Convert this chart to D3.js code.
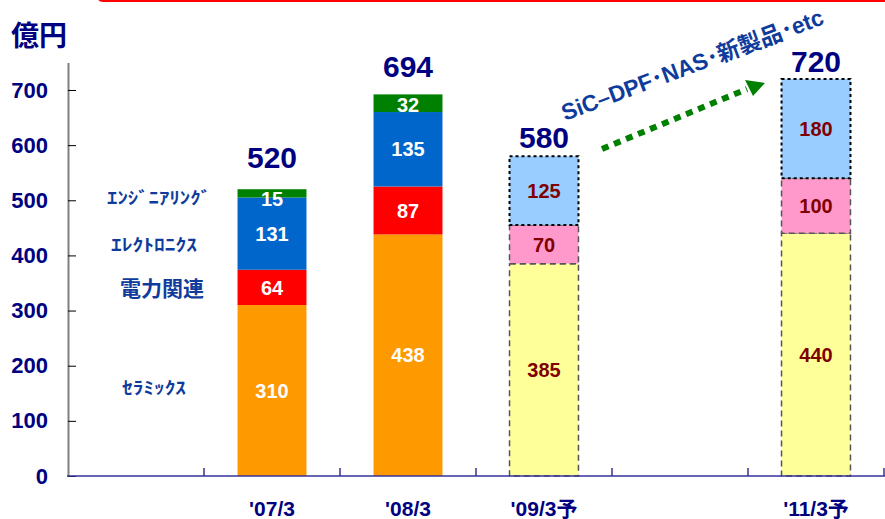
<!DOCTYPE html>
<html>
<head>
<meta charset="utf-8">
<script src="https://cdn.jsdelivr.net/npm/d3@7"></script>
<style>
  html, body { margin: 0; padding: 0; background: #fff; }
  svg { display: block; }
</style>
</head>
<body>
<svg id="chart"></svg>
<script>
const width = 885;
const height = 519;

// data
const categories = ["", "'07/3", "'08/3", "'09/3予", " ", "'11/3予"];
const ceramics    = [0, 310, 438, 385, 0, 440];
const power       = [0, 64, 87, 70, 0, 100];
const electronics = [0, 131, 135, 125, 0, 180];
const engineering = [0, 15, 32, 0, 0, 0];
const totals      = [null, 520, 694, 580, null, 720];
const isForecast  = [false, false, false, true, false, true];
const yTicks = [0, 100, 200, 300, 400, 500, 600, 700];
const segmentNames = ["ｾﾗﾐｯｸｽ", "電力関連", "ｴﾚｸﾄﾛﾆｸｽ", "ｴﾝｼﾞﾆｱﾘﾝｸﾞ"];

const keys = ["ceramics", "power", "electronics", "engineering"];
const rows = categories.map((c, i) => ({
    cat: c, i: i,
    ceramics: ceramics[i], power: power[i],
    electronics: electronics[i], engineering: engineering[i]
}));

const actualColor = { ceramics: "#FF9900", power: "#FF0000", electronics: "#0066CC", engineering: "#008000" };
const planColor = { ceramics: "#FFFF99", power: "#FF99CC", electronics: "#99CCFF", engineering: "#99CCFF" };

const navy = "#000080";
const blueText = "#0f3c9c";
const fontLatin = "'Liberation Sans', Arial, sans-serif";
const fontJp = "'Liberation Sans', 'Noto Sans CJK JP', sans-serif";

const svg = d3.select('#chart').attr('width', width).attr('height', height)

const x = d3.scaleBand().domain(categories).range([68, 884]).paddingInner(0.493).paddingOuter(0.2465)
const y = d3.scaleLinear().domain([0, 750]).range([476, 62.4])
const step = x.step()

// red frame edge at the top
svg.append('rect')
    .attr('x', 97).attr('y', -20).attr('width', 800).attr('height', 21).attr('rx', 6)
    .style('fill', 'none').style('stroke', '#FF0000').style('stroke-width', 2)

// unit
svg.append('text')
    .attr('x', 11).attr('y', 46)
    .style('font-family', "'Noto Sans CJK JP', sans-serif").style('font-weight', 'bold')
    .style('font-size', '28px').style('fill', navy)
    .text('億円')

// bars
const series = d3.stack().keys(keys)(rows)
const barG = svg.append('g')
series.forEach(s => {
    const key = s.key
    barG.append('g')
        .selectAll('rect')
        .data(s.filter(d => d.data[key] > 0))
        .join('rect')
        .attr('x', d => x(d.data.cat))
        .attr('width', x.bandwidth())
        .attr('y', d => y(d[1]))
        .attr('height', d => y(d[0]) - y(d[1]))
        .style('fill', d => isForecast[d.data.i] ? planColor[key] : actualColor[key])
        .style('stroke', d => isForecast[d.data.i] ? (key === 'electronics' ? '#000' : '#555') : 'none')
        .style('stroke-width', d => key === 'electronics' ? 2 : 1.5)
        .style('stroke-dasharray', d => key === 'electronics' ? '3,3' : '6,4')
})

// segment labels
series.forEach(s => {
    const key = s.key
    svg.append('g')
        .selectAll('text')
        .data(s.filter(d => d.data[key] > 0))
        .join('text')
        .attr('x', d => x(d.data.cat) + x.bandwidth() / 2)
        .attr('y', d => Math.max((y(d[0]) + y(d[1])) / 2, y(d[1]) + 10))
        .attr('dy', '0.36em')
        .attr('text-anchor', 'middle')
        .style('font-family', fontLatin).style('font-weight', 'bold').style('font-size', '20px')
        .style('fill', d => isForecast[d.data.i] ? '#800000' : '#fff')
        .text(d => d.data[key])
})

// totals
const totalLift = [0, 21, 17, 8, 0, 7];
svg.append('g')
    .selectAll('text')
    .data(rows.filter(d => totals[d.i] != null))
    .join('text')
    .attr('x', d => x(d.cat) + x.bandwidth() / 2)
    .attr('y', d => y(d3.sum(keys, k => d[k])) - totalLift[d.i])
    .attr('text-anchor', 'middle')
    .style('font-family', fontLatin).style('font-weight', 'bold').style('font-size', '30px')
    .style('fill', navy)
    .text(d => totals[d.i])

// y axis
const yAxis = svg.append('g')
    .attr('transform', 'translate(68,0)')
    .call(d3.axisLeft(y).tickValues(yTicks).tickSizeInner(-8).tickSizeOuter(0).tickPadding(20))
yAxis.select('.domain').style('stroke', '#808080').style('stroke-width', 2)
yAxis.selectAll('.tick line').style('stroke', '#000')
yAxis.selectAll('.tick text')
    .style('font-family', fontLatin).style('font-weight', 'bold').style('font-size', '22px')
    .style('fill', navy)

// x axis
const bounds = categories.map(c => x(c) - step * 0.2465).concat([884])
svg.append('line')
    .attr('x1', 67).attr('x2', 885).attr('y1', 476).attr('y2', 476)
    .style('stroke', '#333399').style('stroke-width', 1.5)
svg.append('g')
    .selectAll('line')
    .data(bounds.slice(1))
    .join('line')
    .attr('x1', d => d).attr('x2', d => d)
    .attr('y1', 476).attr('y2', 468)
    .style('stroke', '#333399').style('stroke-width', 1.5)
svg.append('g')
    .selectAll('text')
    .data(categories.filter(c => c.trim() !== ''))
    .join('text')
    .attr('x', d => x(d) + x.bandwidth() / 2)
    .attr('y', 516)
    .attr('text-anchor', 'middle')
    .style('font-family', fontJp).style('font-weight', 'bold').style('font-size', '21px')
    .style('fill', navy)
    .text(d => d)

// segment names on the left
const nameSpots = [
    { x: 122, v: 149, len: 64, size: 17 },
    { x: 120, v: 326, len: 84, size: 21 },
    { x: 111, v: 408, len: 86, size: 17 },
    { x: 107, v: 493, len: 104, size: 17 }
];
svg.append('g')
    .selectAll('text')
    .data(segmentNames)
    .join('text')
    .attr('x', (d, i) => nameSpots[i].x)
    .attr('y', (d, i) => y(nameSpots[i].v))
    .attr('textLength', (d, i) => nameSpots[i].len)
    .attr('lengthAdjust', 'spacingAndGlyphs')
    .style('font-family', "'Noto Sans CJK JP', sans-serif").style('font-weight', 'bold')
    .style('font-size', (d, i) => nameSpots[i].size + 'px')
    .style('fill', blueText)
    .text(d => d)

// growth arrow
svg.append('line')
    .attr('x1', 602).attr('y1', 149).attr('x2', 747).attr('y2', 89)
    .style('stroke', '#008000').style('stroke-width', 6).style('stroke-dasharray', '7,6')
svg.append('path')
    .attr('d', 'M745,80 L765,83 L753,96 Z')
    .style('fill', '#008000')

svg.append('text')
    .attr('transform', 'translate(565,121) rotate(-20.5)')
    .attr('textLength', 278)
    .attr('lengthAdjust', 'spacingAndGlyphs')
    .style('font-family', fontJp).style('font-weight', 'bold').style('font-size', '23px')
    .style('fill', blueText)
    .text('SiC–DPF･NAS･新製品･etc')
</script>
</body>
</html>
